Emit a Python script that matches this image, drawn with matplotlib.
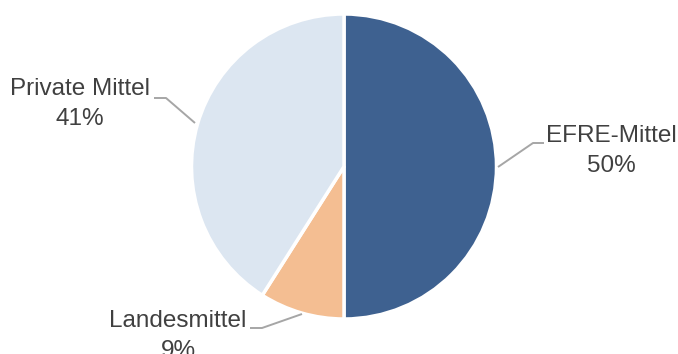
import matplotlib
matplotlib.use('Agg')
import matplotlib.pyplot as plt

labels = ['EFRE-Mittel', 'Landesmittel', 'Private Mittel']
shares = [50, 9, 41]
colors = ['#3E6190', '#F4BE92', '#DCE6F1']

# label text centre (x, y of first line) and leader line points, in pixels from top-left
label_pos = [(611, 136), (178, 321), (80, 89)]
leaders = [[(498, 167), (533, 143), (544, 143)],
           [(302, 314), (262, 328), (250, 328)],
           [(195, 123), (166, 98), (154, 98)]]

W, H = 678, 354
fig = plt.figure(figsize=(W / 100, H / 100), dpi=100)
ax = fig.add_axes([0, 0, 1, 1])

ax.pie(shares, colors=colors, startangle=90, counterclock=False,
       center=(344, H - 166.5), radius=152.5, frame=True,
       wedgeprops=dict(edgecolor='white', linewidth=2.5))
ax.set_xlim(0, W)
ax.set_ylim(0, H)
ax.set_aspect('equal')
ax.axis('off')

for name, val, (tx, ty), pts in zip(labels, shares, label_pos, leaders):
    xs = [p[0] for p in pts]
    ys = [H - p[1] for p in pts]
    ax.plot(xs, ys, color='#A6A6A6', lw=1.4, solid_capstyle='butt')
    ax.text(tx, H - ty, name, ha='center', va='center', fontsize=17.5,
            color='#404040', family='Liberation Sans')
    ax.text(tx, H - ty - 30, f'{val}%', ha='center', va='center', fontsize=17.5,
            color='#404040', family='Liberation Sans')

fig.savefig('out.png', dpi=100)
